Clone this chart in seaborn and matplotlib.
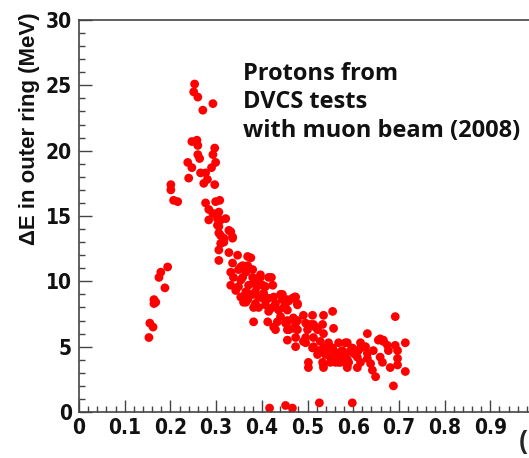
import matplotlib
matplotlib.use("Agg")
import matplotlib.pyplot as plt
import seaborn as sns
import numpy as np
import pandas as pd
from matplotlib.ticker import MultipleLocator

# ---- data (momentum, energy deposit in MeV) ----
peak_x = [0.253, 0.251, 0.260, 0.293, 0.271, 0.247, 0.258, 0.260, 0.297, 0.293, 0.260, 0.264,
          0.238, 0.299, 0.247, 0.290, 0.266, 0.277, 0.240, 0.281, 0.273, 0.297, 0.201, 0.201,
          0.207, 0.216, 0.277, 0.299, 0.308, 0.284, 0.293, 0.306, 0.310, 0.303, 0.321, 0.332, 0.336]
peak_y = [25.1, 24.5, 24.1, 23.6, 23.1, 20.7, 20.8, 20.4, 20.2, 19.7, 19.7, 19.4,
          19.1, 19.1, 18.7, 18.7, 18.3, 18.3, 17.9, 17.8, 17.5, 17.4, 17.4, 17.0,
          16.2, 16.1, 16.0, 16.1, 16.2, 15.5, 15.2, 15.3, 14.7, 14.3, 14.8, 13.8, 13.4]

left_x = [0.194, 0.179, 0.175, 0.188, 0.164, 0.164, 0.168, 0.155, 0.162, 0.153]
left_y = [11.1, 10.7, 10.3, 9.5, 8.6, 8.3, 8.4, 6.8, 6.5, 5.7]

band_x = [0.284, 0.303, 0.306, 0.328, 0.306, 0.317, 0.336, 0.310, 0.306, 0.328, 0.347, 0.369,
          0.306, 0.336, 0.358, 0.332, 0.349, 0.365, 0.338, 0.358, 0.380, 0.397, 0.415, 0.332,
          0.349, 0.371, 0.391, 0.408, 0.424, 0.343, 0.365, 0.386, 0.404, 0.371, 0.393, 0.415,
          0.441, 0.365, 0.386, 0.408, 0.430, 0.452, 0.467, 0.393, 0.415, 0.437, 0.456, 0.382,
          0.413, 0.434, 0.456,
          0.317, 0.310, 0.354, 0.369, 0.354, 0.382, 0.389, 0.354, 0.369, 0.382, 0.360, 0.369,
          0.382, 0.376, 0.380, 0.421, 0.402, 0.445, 0.459, 0.472, 0.478, 0.448, 0.424,
          0.397, 0.402, 0.426, 0.441, 0.430, 0.426, 0.452, 0.459, 0.469, 0.478, 0.469, 0.474,
          0.491, 0.507, 0.517]
band_y = [14.7, 14.8, 14.2, 13.9, 13.7, 13.3, 13.3, 12.9, 12.4, 12.2, 12.0, 11.9,
          11.6, 11.4, 11.2, 10.7, 10.9, 10.7, 10.3, 10.3, 10.3, 10.3, 10.3, 9.7,
          9.6, 9.7, 9.9, 9.6, 9.7, 9.3, 9.2, 9.2, 9.1, 8.8, 8.8, 8.7,
          9.0, 8.4, 8.3, 8.2, 8.3, 8.4, 8.7, 8.0, 7.7, 7.8, 7.8, 6.9,
          6.9, 6.9, 7.0,
          13.0, 13.5, 11.1, 11.2, 10.1, 9.9, 9.6, 8.8, 8.6, 8.0, 8.4, 9.1,
          9.0, 11.8, 10.9, 10.3, 8.7, 8.6, 8.5, 8.8, 8.2, 8.0, 8.0,
          10.5, 9.7, 8.8, 7.3, 6.3, 6.5, 6.8, 6.3, 7.2, 7.0, 6.4, 5.0,
          5.4, 6.7, 6.5]

tail_x = [0.445, 0.456, 0.474, 0.478, 0.452, 0.491, 0.511, 0.535, 0.555, 0.456, 0.474, 0.496,
          0.513, 0.533, 0.557, 0.456, 0.478, 0.500, 0.522, 0.535, 0.456, 0.474, 0.496, 0.513,
          0.528, 0.546, 0.568, 0.587, 0.616, 0.631, 0.496, 0.511, 0.535, 0.555, 0.576, 0.598,
          0.611, 0.522, 0.539, 0.557, 0.583, 0.605, 0.631, 0.502, 0.533, 0.550, 0.572, 0.590,
          0.616, 0.502, 0.587,
          0.513, 0.524, 0.535, 0.550, 0.561, 0.572, 0.587, 0.594, 0.609, 0.616, 0.644, 0.655,
          0.666, 0.609, 0.649, 0.638,
          0.692, 0.659, 0.666, 0.714, 0.583, 0.627, 0.675, 0.692, 0.697, 0.677, 0.544, 0.557,
          0.572, 0.600, 0.609, 0.631, 0.659, 0.664, 0.697, 0.697, 0.681, 0.714, 0.642, 0.587,
          0.568, 0.555, 0.535, 0.688]
tail_y = [9.0, 8.6, 8.8, 8.3, 8.0, 7.4, 7.4, 7.4, 7.7, 6.9, 6.8, 6.8,
          6.7, 6.7, 6.4, 6.3, 6.3, 6.3, 6.3, 6.0, 5.5, 5.7, 5.7, 5.7,
          5.4, 5.3, 5.3, 5.3, 5.3, 6.0, 5.3, 4.9, 4.9, 4.9, 4.7, 4.9,
          4.7, 4.4, 4.4, 4.4, 4.4, 4.4, 4.5, 3.8, 3.8, 3.8, 3.8, 3.8,
          3.8, 3.4, 3.4,
          5.0, 4.7, 3.6, 4.2, 3.8, 4.2, 4.0, 4.7, 4.7, 4.9, 4.7, 5.5,
          5.5, 3.4, 2.7, 3.7,
          7.3, 5.6, 5.4, 5.3, 5.3, 5.0, 5.1, 5.1, 4.7, 4.7, 4.9, 4.6,
          4.6, 4.5, 4.2, 4.1, 4.2, 3.8, 4.1, 3.6, 3.4, 3.1, 3.2, 3.6,
          3.8, 4.0, 3.4, 2.0]

low_x = [0.417, 0.452, 0.467, 0.526, 0.598]
low_y = [0.3, 0.5, 0.3, 0.7, 0.7]

x_ticks = [0, 0.1, 0.2, 0.3, 0.4, 0.5, 0.6, 0.7, 0.8, 0.9]
x_tick_labels = ["0", "0.1", "0.2", "0.3", "0.4", "0.5", "0.6", "0.7", "0.8", "0.9"]
y_ticks = [0, 5, 10, 15, 20, 25, 30]
y_tick_labels = ["0", "5", "10", "15", "20", "25", "30"]

df = pd.DataFrame({
    "p": peak_x + left_x + band_x + tail_x + low_x,
    "dE": peak_y + left_y + band_y + tail_y + low_y,
})

sns.set_theme(style="white")
plt.rcParams["font.family"] = ["DejaVu Sans"]

W, H = 529, 458
fig = plt.figure(figsize=(W / 100, H / 100), dpi=100)
ax = fig.add_axes([79 / W, 46 / H, 457 / W, 392 / H])

sns.scatterplot(data=df, x="p", y="dE", ax=ax, color="#ff0000", s=40,
                edgecolor="none", linewidth=0, legend=False)

ax.set_xlim(0, 1)
ax.set_ylim(0, 30)
ax.set_xticks(x_ticks)
ax.set_xticklabels(x_tick_labels)
ax.set_yticks(y_ticks)
ax.set_yticklabels(y_tick_labels)
ax.xaxis.set_minor_locator(MultipleLocator(0.02))
ax.yaxis.set_minor_locator(MultipleLocator(1))
ax.set_xlabel("")
ax.set_ylabel("")

for lab in ax.get_xticklabels() + ax.get_yticklabels():
    lab.set_family(["DejaVu Sans"])
    lab.set_fontstretch("condensed")
    lab.set_fontweight("bold")
    lab.set_fontsize(15)
    lab.set_color("#111111")

ax.tick_params(axis="both", which="major", direction="in", length=9, width=1,
               color="#444444", pad=4)
ax.tick_params(axis="both", which="minor", direction="in", length=4.5, width=1,
               color="#444444")
ax.tick_params(axis="y", which="major", pad=5)
ax.tick_params(axis="y", which="both", left=True)
ax.tick_params(axis="x", which="both", bottom=True)

for side in ["left", "bottom", "top", "right"]:
    ax.spines[side].set_visible(True)
    ax.spines[side].set_color("#444444")
    ax.spines[side].set_linewidth(1.2)

fig.text(30 / W, 1 - 129 / H, "ΔE in outer ring (MeV)", rotation=90,
         ha="center", va="center", fontsize=16, fontweight="bold",
         family=["Liberation Sans", "DejaVu Sans"], color="#111111")

fig.text(243 / W, 1 - 102 / H, "Protons from\nDVCS tests\nwith muon beam (2008)",
         ha="left", va="center", fontsize=17, fontweight="bold",
         family=["Open Sans", "DejaVu Sans"], linespacing=1.25, color="#111111")

fig.text(519 / W, 1 - 442 / H, "(", ha="left", va="center", fontsize=18,
         fontweight="bold", family=["Liberation Sans", "DejaVu Sans"])

fig.savefig("out.png", dpi=100)
